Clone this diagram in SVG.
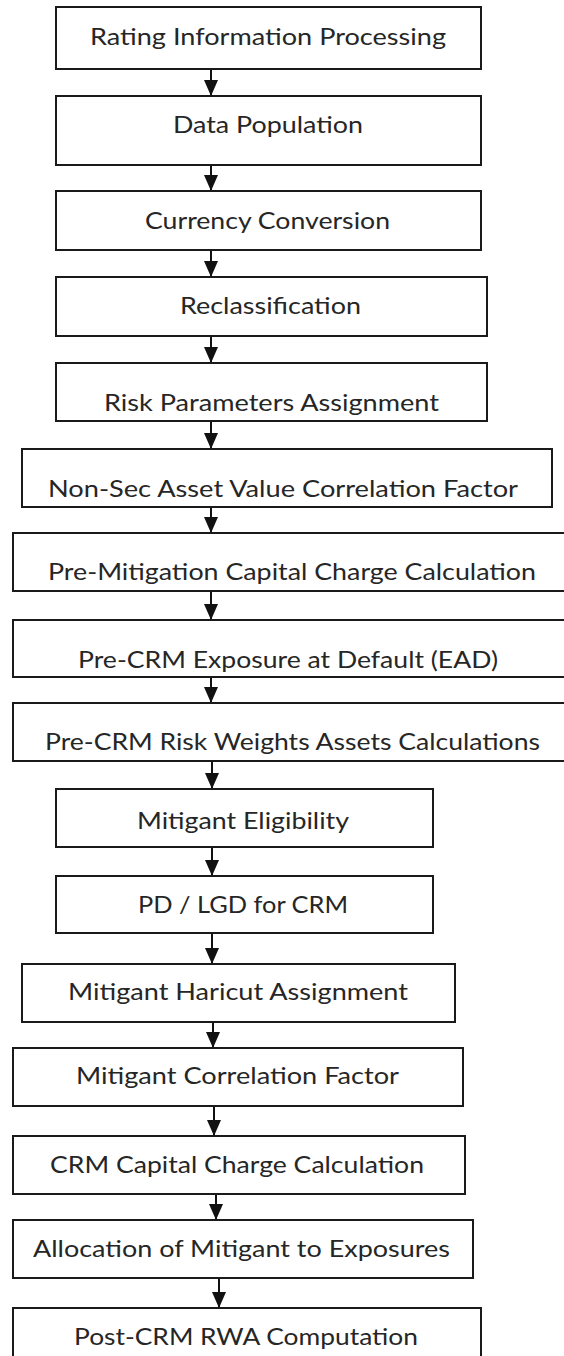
<svg xmlns="http://www.w3.org/2000/svg" width="564" height="1356" viewBox="0 0 564 1356">
  <style>
    .box { fill: #ffffff; stroke: #1a1a1a; stroke-width: 2; }
    .lbl { font-family: Lato, "Liberation Sans", sans-serif; font-size: 24px; fill: #262626; text-anchor: middle; }
    .edge { stroke: #111111; stroke-width: 2; fill: none; marker-end: url(#head); }
  </style>
  <defs>
    <!-- solid triangular arrowhead, tip at the end of the line -->
    <marker id="head" markerUnits="userSpaceOnUse" markerWidth="16" markerHeight="14" viewBox="0 0 16 14" refX="16" refY="7" orient="auto">
      <path d="M0,0 L16,7 L0,14 Z" fill="#111111"/>
    </marker>
  </defs>
  <rect width="564" height="1356" fill="#ffffff"/>

  <g id="connectors">
    <line class="edge" x1="211" y1="70" x2="211" y2="96"/>
    <line class="edge" x1="211" y1="166" x2="211" y2="191"/>
    <line class="edge" x1="211" y1="251" x2="211" y2="277"/>
    <line class="edge" x1="211" y1="337" x2="211" y2="363"/>
    <line class="edge" x1="211" y1="422" x2="211" y2="449"/>
    <line class="edge" x1="211" y1="508" x2="211" y2="533"/>
    <line class="edge" x1="211" y1="592" x2="211" y2="620"/>
    <line class="edge" x1="211" y1="678" x2="211" y2="703"/>
    <line class="edge" x1="212" y1="762" x2="212" y2="789"/>
    <line class="edge" x1="212" y1="848" x2="212" y2="876"/>
    <line class="edge" x1="212" y1="934" x2="212" y2="964"/>
    <line class="edge" x1="213" y1="1023" x2="213" y2="1048"/>
    <line class="edge" x1="214" y1="1107" x2="214" y2="1136"/>
    <line class="edge" x1="216" y1="1195" x2="216" y2="1220"/>
    <line class="edge" x1="219" y1="1279" x2="219" y2="1308"/>
  </g>

  <g id="n1"><rect class="box" x="56" y="7" width="425" height="62"/><text class="lbl" x="268" y="45" textLength="356" lengthAdjust="spacingAndGlyphs">Rating Information Processing</text></g>
  <g id="n2"><rect class="box" x="56" y="96" width="425" height="69"/><text class="lbl" x="268" y="133" textLength="190" lengthAdjust="spacingAndGlyphs">Data Population</text></g>
  <g id="n3"><rect class="box" x="56" y="191" width="425" height="59"/><text class="lbl" x="267.5" y="229" textLength="245" lengthAdjust="spacingAndGlyphs">Currency Conversion</text></g>
  <g id="n4"><rect class="box" x="56" y="277" width="431" height="59"/><text class="lbl" x="270.5" y="314" textLength="181" lengthAdjust="spacingAndGlyphs">Reclassification</text></g>
  <g id="n5"><rect class="box" x="56" y="363" width="431" height="58"/><text class="lbl" x="271.5" y="411" textLength="335" lengthAdjust="spacingAndGlyphs">Risk Parameters Assignment</text></g>
  <g id="n6"><rect class="box" x="22" y="449" width="530" height="58"/><text class="lbl" x="283" y="497" textLength="470" lengthAdjust="spacingAndGlyphs">Non-Sec Asset Value Correlation Factor</text></g>
  <g id="n7"><rect class="box" x="13" y="533" width="559" height="58"/><text class="lbl" x="292" y="580" textLength="488" lengthAdjust="spacingAndGlyphs">Pre-Mitigation Capital Charge Calculation</text></g>
  <g id="n8"><rect class="box" x="13" y="620" width="559" height="57"/><text class="lbl" x="288" y="668" textLength="420" lengthAdjust="spacingAndGlyphs">Pre-CRM Exposure at Default (EAD)</text></g>
  <g id="n9"><rect class="box" x="13" y="703" width="559" height="58"/><text class="lbl" x="292.5" y="750" textLength="495" lengthAdjust="spacingAndGlyphs">Pre-CRM Risk Weights Assets Calculations</text></g>
  <g id="n10"><rect class="box" x="56" y="789" width="377" height="58"/><text class="lbl" x="243" y="829" textLength="212" lengthAdjust="spacingAndGlyphs">Mitigant Eligibility</text></g>
  <g id="n11"><rect class="box" x="56" y="876" width="377" height="57"/><text class="lbl" x="243" y="913" textLength="210" lengthAdjust="spacingAndGlyphs">PD / LGD for CRM</text></g>
  <g id="n12"><rect class="box" x="22" y="964" width="433" height="58"/><text class="lbl" x="238" y="1000" textLength="340" lengthAdjust="spacingAndGlyphs">Mitigant Haricut Assignment</text></g>
  <g id="n13"><rect class="box" x="13" y="1048" width="450" height="58"/><text class="lbl" x="237.5" y="1084" textLength="323" lengthAdjust="spacingAndGlyphs">Mitigant Correlation Factor</text></g>
  <g id="n14"><rect class="box" x="13" y="1136" width="452" height="58"/><text class="lbl" x="237" y="1173" textLength="374" lengthAdjust="spacingAndGlyphs">CRM Capital Charge Calculation</text></g>
  <g id="n15"><rect class="box" x="13" y="1220" width="460" height="58"/><text class="lbl" x="241.5" y="1257" textLength="417" lengthAdjust="spacingAndGlyphs">Allocation of Mitigant to Exposures</text></g>
  <g id="n16"><rect class="box" x="13" y="1308" width="468" height="58"/><text class="lbl" x="246" y="1345" textLength="344" lengthAdjust="spacingAndGlyphs">Post-CRM RWA Computation</text></g>
</svg>
